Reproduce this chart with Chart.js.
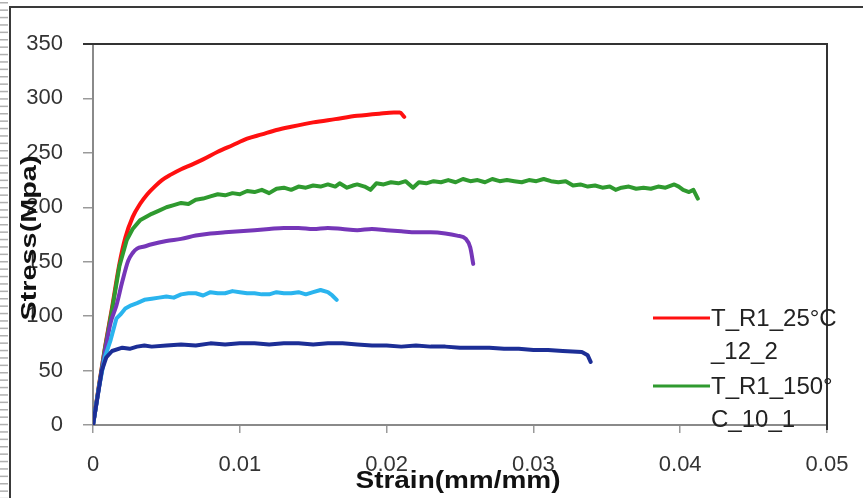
<!DOCTYPE html>
<html>
<head>
<meta charset="utf-8">
<script src="https://cdn.jsdelivr.net/npm/chart.js@4.4.1/dist/chart.umd.min.js"></script>
<style>
  html, body { margin: 0; padding: 0; background: #fff; }
  canvas { display: block; }
</style>
</head>
<body>
<canvas id="chart" width="863" height="498"></canvas>
<script>
// tick labels
var xTickLabels = ['0', '0.01', '0.02', '0.03', '0.04', '0.05'];
var yTickLabels = ['0', '50', '100', '150', '200', '250', '300', '350'];

// series names (legend only shows the first two, the rest is cut off)
var seriesNames = ['T_R1_25°C_12_2', 'T_R1_150°C_10_1', 'T_R1_3', 'T_R1_4', 'T_R1_5'];
var legendLines = [['T_R1_25°C', '_12_2'], ['T_R1_150°', 'C_10_1']];

// red - 25C
var redStrain = [0, 0.0004, 0.0008, 0.0013, 0.0018, 0.0022, 0.0027, 0.0032, 0.0037, 0.0042, 0.0047, 0.0053, 0.006, 0.0067, 0.0075, 0.0085, 0.0095, 0.0105, 0.0115, 0.0125, 0.0135, 0.015, 0.0165, 0.018, 0.0195, 0.0205, 0.0209, 0.0212];
var redStress = [0, 36, 70, 108, 148, 172, 191, 203, 212, 219, 225, 230, 235, 239, 244, 251, 257, 263, 267, 271, 274, 278, 281, 284, 286, 287, 287, 283];

// green - 150C
var greenStrain = [0, 0.0004, 0.0008, 0.0013, 0.0018, 0.0023, 0.0027, 0.0032, 0.004, 0.0045, 0.005, 0.0055, 0.006, 0.0065, 0.007, 0.0075, 0.008, 0.0085, 0.009, 0.0095, 0.010, 0.0105, 0.011, 0.0115, 0.012, 0.0125, 0.013, 0.0135, 0.014, 0.0145, 0.015, 0.0155, 0.016, 0.0165, 0.0168, 0.0173, 0.0177, 0.018, 0.0185, 0.0189, 0.0193, 0.0198, 0.0203, 0.0208, 0.0213, 0.0218, 0.0222, 0.0227, 0.0232, 0.0237, 0.0242, 0.0247, 0.0252, 0.0257, 0.0262, 0.0267, 0.0272, 0.0277, 0.0282, 0.0287, 0.0292, 0.0297, 0.0302, 0.0307, 0.0312, 0.0317, 0.0322, 0.0327, 0.0332, 0.0337, 0.0342, 0.0347, 0.0352, 0.0356, 0.036, 0.0365, 0.037, 0.0375, 0.038, 0.0385, 0.039, 0.0396, 0.0399, 0.0402, 0.0406, 0.0409, 0.0412];
var greenStress = [0, 35, 69, 106, 146, 170, 180, 188, 194, 197, 200, 202, 204, 203, 207, 208, 210, 212, 211, 213, 212, 215, 214, 216, 213, 217, 218, 216, 219, 218, 220, 219, 221, 219, 222, 218, 220, 221, 219, 216, 222, 221, 223, 222, 224, 218, 223, 222, 224, 223, 225, 223, 226, 224, 225, 223, 226, 224, 225, 224, 223, 225, 224, 226, 224, 223, 224, 220, 221, 219, 220, 218, 219, 216, 218, 219, 217, 218, 217, 219, 218, 221, 219, 216, 214, 216, 208];

// purple
var purpleStrain = [0, 0.0004, 0.0008, 0.0012, 0.0016, 0.002, 0.0024, 0.0027, 0.003, 0.0035, 0.004, 0.005, 0.006, 0.007, 0.008, 0.009, 0.010, 0.011, 0.012, 0.013, 0.014, 0.015, 0.016, 0.017, 0.018, 0.019, 0.020, 0.021, 0.022, 0.023, 0.024, 0.0248, 0.0254, 0.0257, 0.0259];
var purpleStress = [0, 34, 66, 94, 110, 132, 151, 158, 162, 164, 166, 169, 171, 174, 176, 177, 178, 179, 180, 181, 181, 180, 181, 180, 179, 180, 179, 178, 177, 177, 176, 174, 171, 163, 148];

// light blue
var cyanStrain = [0, 0.0004, 0.0008, 0.0012, 0.0016, 0.0019, 0.0022, 0.0026, 0.003, 0.0035, 0.004, 0.0045, 0.005, 0.0055, 0.006, 0.0065, 0.007, 0.0075, 0.008, 0.0085, 0.009, 0.0095, 0.010, 0.0105, 0.011, 0.0115, 0.012, 0.0125, 0.013, 0.0135, 0.014, 0.0145, 0.015, 0.0155, 0.016, 0.0163, 0.0166];
var cyanStress = [0, 34, 62, 78, 98, 102, 107, 110, 112, 115, 116, 117, 118, 117, 120, 121, 121, 119, 122, 121, 121, 123, 122, 121, 121, 120, 120, 122, 121, 121, 122, 120, 122, 124, 122, 119, 115];

// dark blue
var navyStrain = [0, 0.0003, 0.0006, 0.0009, 0.0013, 0.002, 0.0025, 0.003, 0.0035, 0.004, 0.005, 0.006, 0.007, 0.008, 0.009, 0.010, 0.011, 0.012, 0.013, 0.014, 0.015, 0.016, 0.017, 0.018, 0.019, 0.020, 0.021, 0.022, 0.023, 0.024, 0.025, 0.026, 0.027, 0.028, 0.029, 0.030, 0.031, 0.032, 0.0333, 0.0337, 0.0339];
var navyStress = [0, 25, 50, 62, 68, 71, 70, 72, 73, 72, 73, 74, 73, 75, 74, 75, 75, 74, 75, 75, 74, 75, 75, 74, 73, 73, 72, 73, 72, 72, 71, 71, 71, 70, 70, 69, 69, 68, 67, 64, 58];

function pts(xs, ys) {
  return xs.map(function (x, i) { return { x: x, y: ys[i] }; });
}

var FONT = "'Liberation Sans', Arial, sans-serif";

var frame = {
  id: 'frame',
  beforeDraw: function (chart) {
    var ctx = chart.ctx;
    ctx.save();
    ctx.fillStyle = '#fff';
    ctx.fillRect(0, 0, chart.width, chart.height);
    // striped left edge
    ctx.fillStyle = '#b0b0b0';
    for (var y = 2; y < chart.height; y += 7.4) ctx.fillRect(0, y, 8, 1.5);
    // outer frame
    ctx.strokeStyle = '#3a3a3a';
    ctx.lineWidth = 2;
    ctx.beginPath();
    ctx.moveTo(10, chart.height);
    ctx.lineTo(10, 7);
    ctx.lineTo(chart.width, 7);
    ctx.stroke();
    ctx.restore();
  },
  afterDraw: function (chart) {
    var ctx = chart.ctx, a = chart.chartArea;
    ctx.save();
    // plot area top / right border
    ctx.strokeStyle = '#333';
    ctx.lineWidth = 2;
    ctx.beginPath();
    ctx.moveTo(a.left - 10, a.top);
    ctx.lineTo(a.right, a.top);
    ctx.lineTo(a.right, a.bottom + 5);
    ctx.stroke();

    // legend (clipped, only two entries visible)
    var rows = [318, 386];
    ctx.font = '24px ' + FONT;
    ctx.textBaseline = 'middle';
    ctx.fillStyle = '#222';
    [0, 1].forEach(function (k, i) {
      var ds = chart.data.datasets.find(function (d) { return d.label === seriesNames[k]; });
      ctx.strokeStyle = ds.borderColor;
      ctx.lineWidth = 3;
      ctx.beginPath();
      ctx.moveTo(653, rows[i]);
      ctx.lineTo(710, rows[i]);
      ctx.stroke();
      ctx.fillText(legendLines[i][0], 711, rows[i] + 1);
      ctx.fillText(legendLines[i][1], 711, rows[i] + 34);
    });

    // axis titles, drawn over the tick labels as in the original
    ctx.fillStyle = '#111';
    ctx.textAlign = 'center';
    ctx.font = 'bold 22px ' + FONT;
    ctx.save();
    ctx.translate(30, 238);
    ctx.rotate(-Math.PI / 2);
    var w = ctx.measureText('Stress(Mpa)').width;
    ctx.scale(165 / w, 1);
    ctx.fillText('Stress(Mpa)', 0, 0);
    ctx.restore();

    ctx.font = 'bold 24px ' + FONT;
    ctx.save();
    ctx.translate(458, 481);
    w = ctx.measureText('Strain(mm/mm)').width;
    ctx.scale(205 / w, 1);
    ctx.fillText('Strain(mm/mm)', 0, 0);
    ctx.restore();
    ctx.restore();
  }
};

var line = function (label, xs, ys, color, smooth) {
  return {
    label: label, data: pts(xs, ys), borderColor: color, backgroundColor: color,
    borderWidth: 4, pointRadius: 0, tension: 0, fill: false,
    cubicInterpolationMode: smooth ? 'monotone' : 'default',
    borderJoinStyle: 'round', borderCapStyle: 'round'
  };
};

new Chart(document.getElementById('chart'), {
  type: 'line',
  data: {
    // first dataset is drawn on top
    datasets: [
      line(seriesNames[4], navyStrain, navyStress, '#1c2e96'),
      line(seriesNames[3], cyanStrain, cyanStress, '#2ab4ee'),
      line(seriesNames[2], purpleStrain, purpleStress, '#7536b8', true),
      line(seriesNames[1], greenStrain, greenStress, '#2f9a2f'),
      line(seriesNames[0], redStrain, redStress, '#ff1010', true)
    ]
  },
  options: {
    responsive: false,
    animation: false,
    layout: { padding: { left: 0, right: 36, top: 44, bottom: 0 } },
    plugins: { legend: { display: false }, tooltip: { enabled: false } },
    scales: {
      x: {
        type: 'linear', min: 0, max: 0.05,
        afterFit: function (s) { s.height = 73; s.paddingLeft = 0; s.paddingRight = 0; },
        ticks: {
          stepSize: 0.01, padding: 19, color: '#333', font: { family: FONT, size: 22 },
          maxRotation: 0,
          callback: function (v, i) { return xTickLabels[i]; }
        },
        grid: { drawOnChartArea: false, drawTicks: true, tickLength: 8, color: '#9a9a9a', lineWidth: 1.5 },
        border: { display: true, color: '#8a8a8a', width: 2 }
      },
      y: {
        min: 0, max: 350,
        afterFit: function (s) { s.width = 93; s.paddingTop = 0; s.paddingBottom = 0; },
        ticks: {
          stepSize: 50, padding: 20, color: '#333', font: { family: FONT, size: 22 },
          callback: function (v, i) { return yTickLabels[i]; }
        },
        grid: { drawOnChartArea: false, drawTicks: true, tickLength: 10, color: '#9a9a9a', lineWidth: 1.5 },
        border: { display: true, color: '#8a8a8a', width: 2 }
      }
    }
  },
  plugins: [frame]
});
</script>
</body>
</html>
